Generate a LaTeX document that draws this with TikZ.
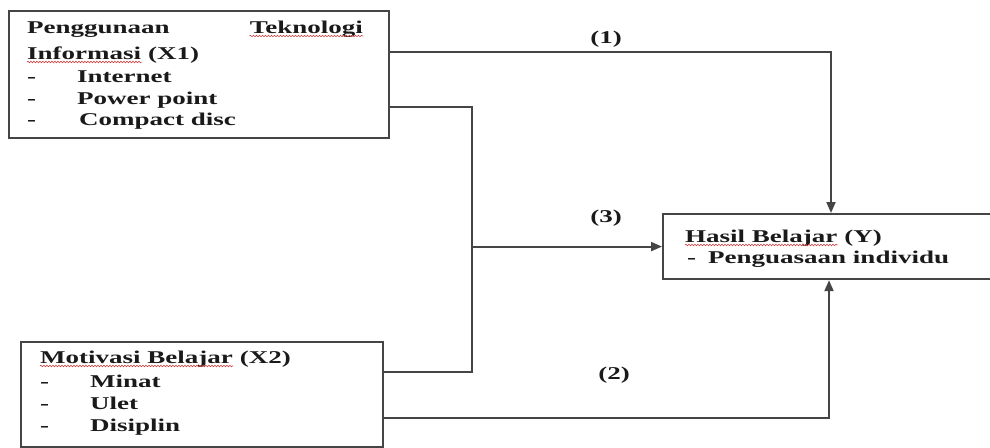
\documentclass[tikz,border=0pt]{standalone}
\usepackage{fontspec}
\setmainfont{Liberation Serif}[FakeStretch=1.5]
\usetikzlibrary{arrows.meta,decorations.pathmorphing,calc}
\definecolor{ln}{HTML}{454545}
\definecolor{tx}{HTML}{1A1A1A}
\definecolor{wv}{HTML}{D04040}
\begin{document}
\begin{tikzpicture}[x=1pt,y=-1pt,
  box/.style={draw=ln, line width=2.2pt, fill=none, inner sep=0pt, anchor=north west},
  txt/.style={font=\fontsize{18}{20}\selectfont\bfseries, text=tx, inner sep=0pt, anchor=base west},
  lbl/.style={font=\fontsize{18}{20}\selectfont\bfseries, text=tx, inner sep=0pt},
  conn/.style={draw=ln, line width=2pt},
  arr/.style={conn, -{Triangle[length=11pt,width=9pt]}},
  wave/.style={draw=wv, line width=0.6pt, decorate, decoration={snake, amplitude=0.8pt, segment length=3pt}}]
\useasboundingbox (0,0) rectangle (990,447);
\clip (0,0) rectangle (990,447);
\fill[white] (0,0) rectangle (990,447);
% boxes
\node[box, minimum width=380pt, minimum height=127pt] (b1) at (8,10) {};
\node[box, minimum width=362pt, minimum height=105pt] (b2) at (20,341) {};
\node[box, minimum width=340pt, minimum height=65pt] (by) at (662,213) {};
% box 1 text
\node[txt] (t1a) at (27,33) {Penggunaan};
\node[txt, anchor=base east] (t1b) at (363,33) {Teknologi};
\node[txt] (t1c) at (27,59) {Informasi};
\node[txt] (t1c2) at ([xshift=6.5pt]t1c.base east) {(X1)};
\node[txt] (d11) at (27,82) {-};
\node[txt] (t1d) at (77,82) {Internet};
\node[txt] (d12) at (27,104) {-};
\node[txt] (t1e) at (77,104) {Power point};
\node[txt] (d13) at (27,125) {-};
\node[txt] (t1f) at (79,125) {Compact disc};
% box 2 text
\node[txt] (t2a) at (40,363) {Motivasi Belajar};
\node[txt] (t2a2) at ([xshift=6.5pt]t2a.base east) {(X2)};
\node[txt] (d21) at (40,387) {-};
\node[txt] (t2b) at (90,387) {Minat};
\node[txt] (d22) at (40,409) {-};
\node[txt] (t2c) at (90,409) {Ulet};
\node[txt] (d23) at (40,431) {-};
\node[txt] (t2d) at (90,431) {Disiplin};
% box Y text
\node[txt] (ty1) at (685,242) {Hasil Belajar};
\node[txt] (ty12) at ([xshift=6.5pt]ty1.base east) {(Y)};
\node[txt] (dy) at (687,263) {-};
\node[txt] (ty2) at (708,263) {Penguasaan individu};
% spell-check underlines
\draw[wave] ($(t1b.base west)+(0,3)$) -- ($(t1b.base east)+(0,3)$);
\draw[wave] ($(t1c.base west)+(0,3)$) -- ($(t1c.base east)+(0,3)$);
\draw[wave] ($(t2a.base west)+(0,3)$) -- ($(t2a.base east)+(0,3)$);
\draw[wave] ($(ty1.base west)+(0,3)$) -- ($(ty1.base east)+(0,3)$);
% connectors
\coordinate (p1) at (831,52);
\draw[arr] (b1.east |- p1) -- (p1) -- (p1 |- by.north);
\coordinate (p3a) at (472,107);
\coordinate (p3b) at (472,372);
\draw[conn] (b1.east |- p3a) -- (p3a) -- (p3b) -- (b2.east |- p3b);
\coordinate (p3m) at (472,246);
\draw[arr] (p3m |- by.west) -- (by.west);
\coordinate (p2) at (829,418);
\draw[arr] (b2.east |- p2) -- (p2) -- (p2 |- by.south);
% labels
\node[lbl] (l1) at (606,39) {(1)};
\node[lbl] (l3) at (606,218) {(3)};
\node[lbl] (l2) at (614,375) {(2)};
\end{tikzpicture}
\end{document}
